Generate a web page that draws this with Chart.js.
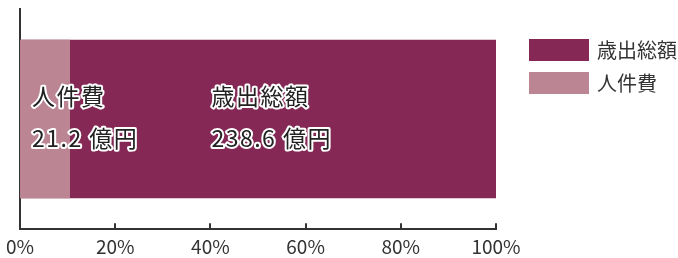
<!DOCTYPE html>
<html>
<head>
<meta charset="utf-8">
<script src="https://cdn.jsdelivr.net/npm/chart.js@4/dist/chart.umd.min.js"></script>
<style>
  html, body { margin: 0; padding: 0; background: #fff; }
  #wrap { width: 678px; height: 258px; }
</style>
</head>
<body>
<div id="wrap"><canvas id="chart" width="678" height="258"></canvas></div>
<script>
// Values
const categories = [''];
const seriesNames = ['歳出総額', '人件費'];
const totalShare = [100];       // % of the axis
const personnelShare = [10.5];  // % of the axis (as drawn)
const amountLabels = ['238.6 億円', '21.2 億円'];
const xTicks = [0, 20, 40, 60, 80, 100];

const darkColor = '#852856';
const lightColor = '#bb8594';
const fontFamily = '"Noto Sans CJK JP", "Noto Sans", sans-serif';

// Little upward tick marks on the x axis
const innerTicks = {
  id: 'innerTicks',
  afterDraw(chart) {
    const ctx = chart.ctx;
    const x = chart.scales.x;
    const bottom = chart.chartArea.bottom;
    ctx.save();
    ctx.strokeStyle = '#333';
    ctx.lineWidth = 2;
    xTicks.forEach(v => {
      const px = Math.round(x.getPixelForValue(v));
      ctx.beginPath();
      ctx.moveTo(px, bottom);
      ctx.lineTo(px, bottom - 6);
      ctx.stroke();
    });
    ctx.restore();
  }
};

// Outlined labels inside the bar
const barLabels = {
  id: 'barLabels',
  afterDatasetsDraw(chart) {
    const ctx = chart.ctx;
    const x = chart.scales.x;
    const bar = chart.getDatasetMeta(0).data[0];
    const cy = bar.y;
    const items = [
      { name: seriesNames[1], amount: amountLabels[1], left: x.getPixelForValue(0) + 12 },
      { name: seriesNames[0], amount: amountLabels[0], left: x.getPixelForValue(40) + 1 }
    ];
    ctx.save();
    ctx.font = '23px ' + fontFamily;
    ctx.letterSpacing = '1.5px';
    ctx.textBaseline = 'middle';
    ctx.textAlign = 'left';
    ctx.lineJoin = 'round';
    items.forEach(it => {
      [[it.name, cy - 23], [it.amount, cy + 19]].forEach(([t, y]) => {
        ctx.strokeStyle = '#fff';
        ctx.lineWidth = 4;
        ctx.strokeText(t, it.left, y);
        ctx.fillStyle = '#222';
        ctx.fillText(t, it.left, y);
      });
    });
    ctx.restore();
  }
};

// Legend at the right, drawn by hand
const sideLegend = {
  id: 'sideLegend',
  afterDraw(chart) {
    const ctx = chart.ctx;
    const area = chart.chartArea;
    const left = area.right + 33;
    let top = area.top + 30;
    ctx.save();
    ctx.font = '20px ' + fontFamily;
    ctx.textBaseline = 'middle';
    ctx.textAlign = 'left';
    chart.data.datasets.forEach(ds => {
      ctx.fillStyle = ds.backgroundColor;
      ctx.fillRect(left, top, 60, 22);
      ctx.fillStyle = '#333';
      ctx.fillText(ds.label, left + 68, top + 11);
      top += 33;
    });
    ctx.restore();
  }
};

new Chart(document.getElementById('chart'), {
  type: 'bar',
  data: {
    labels: categories,
    datasets: [
      { label: seriesNames[0], data: totalShare, backgroundColor: darkColor, order: 2 },
      { label: seriesNames[1], data: personnelShare, backgroundColor: lightColor, order: 1 }
    ]
  },
  options: {
    indexAxis: 'y',
    responsive: false,
    animation: false,
    layout: { padding: { top: 9, left: 12, right: 182, bottom: -6 } },
    datasets: { bar: { categoryPercentage: 1, barPercentage: 0.72 } },
    scales: {
      x: {
        min: 0,
        max: 100,
        afterBuildTicks: axis => { axis.ticks = xTicks.map(v => ({ value: v })); },
        ticks: {
          callback: v => v + '%',
          color: '#333',
          padding: 6,
          font: { family: fontFamily, size: 19 }
        },
        grid: { display: false, drawTicks: false, tickLength: 0 },
        border: { display: true, color: '#333', width: 2 }
      },
      y: {
        stacked: true,
        ticks: { display: false },
        grid: { display: false, drawTicks: false, tickLength: 0 },
        border: { display: true, color: '#333', width: 2 }
      }
    },
    plugins: {
      tooltip: { enabled: false },
      legend: { display: false }
    }
  },
  plugins: [innerTicks, barLabels, sideLegend]
});
</script>
</body>
</html>
